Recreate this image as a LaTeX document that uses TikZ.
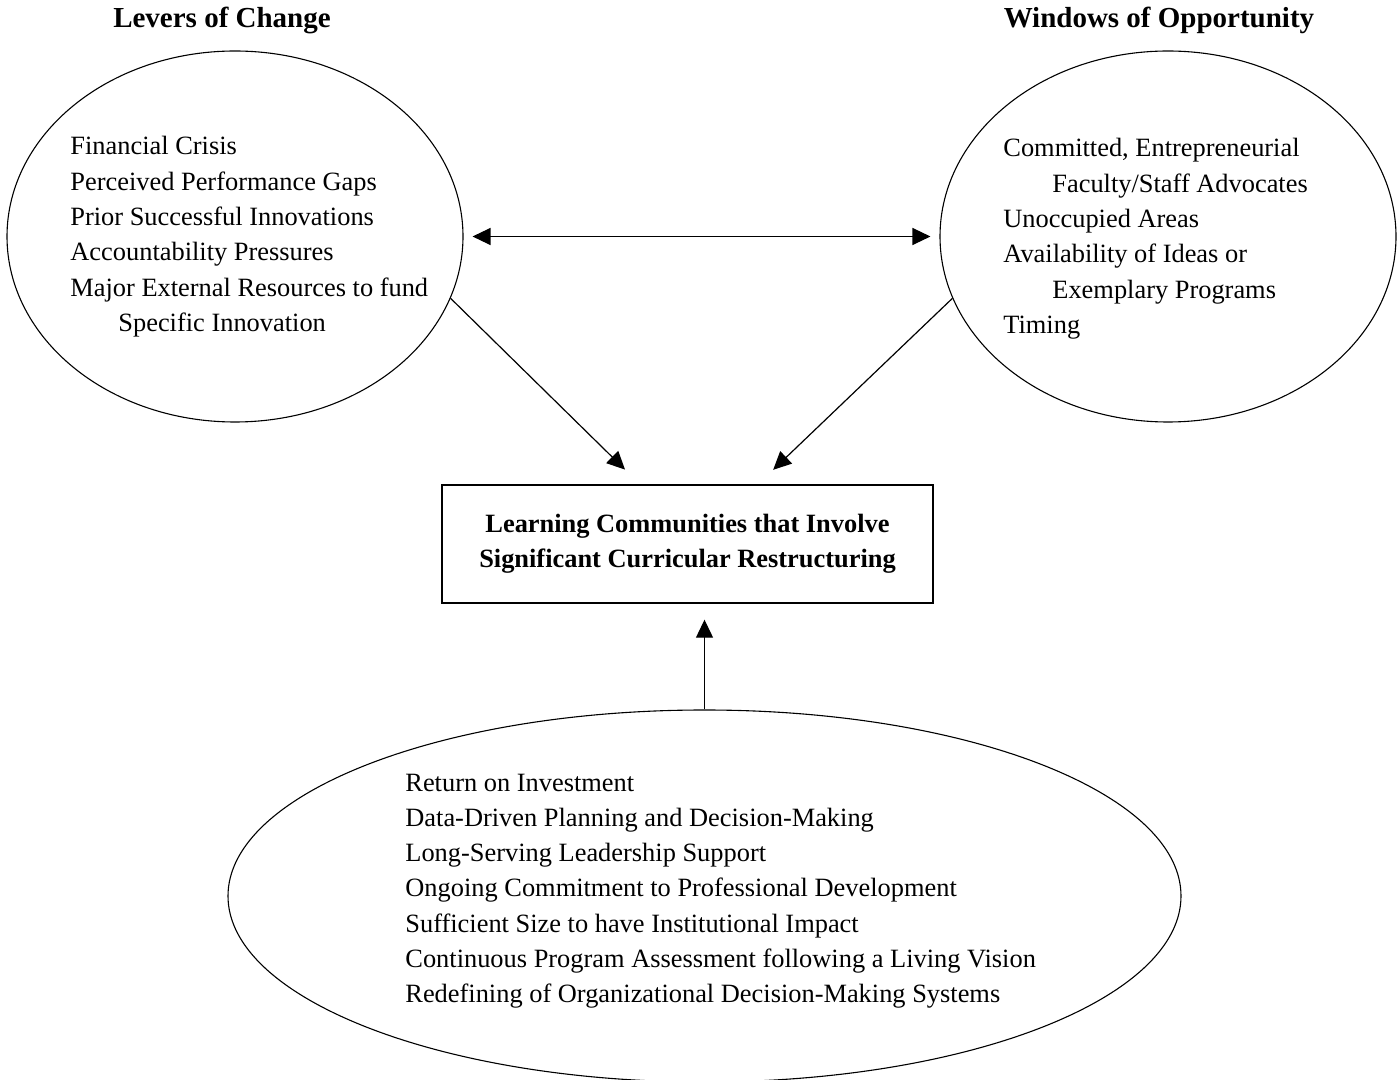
\documentclass[tikz,border=0pt]{standalone}
\usepackage{fontspec}
\setmainfont{Liberation Serif}
\usetikzlibrary{arrows.meta,shapes.geometric,calc}
\begin{document}
\begin{tikzpicture}[x=0.5pt,y=-0.5pt,
  bodytext/.style={inner sep=0pt,anchor=base west,align=left,font=\fontsize{13.2}{17.65}\selectfont},
  titletext/.style={inner sep=0pt,anchor=base,font=\fontsize{14.5}{17}\selectfont\bfseries},
  oval/.style={draw,ellipse,line width=0.55pt,inner sep=0pt},
  conn/.style={line width=0.6pt,-{Triangle[length=9pt,width=8.5pt]}},
  boxnode/.style={draw,line width=0.7pt,inner sep=0pt,align=center,font=\fontsize{13.2}{17.65}\selectfont\bfseries}]
\useasboundingbox (0,0) rectangle (1398,1080);
% titles
\node[titletext] (tl) at (222,28) {Levers of Change};
\node[titletext] (tr) at (1159,28) {Windows of Opportunity};
% ellipses
\node[oval,minimum width=228pt,minimum height=185.5pt] (L) at (235,236.5) {};
\node[oval,minimum width=228pt,minimum height=185.5pt] (R) at (1168,236.5) {};
\node[oval,minimum width=476.5pt,minimum height=186pt] (Bo) at (704.5,896) {};
% box
\node[boxnode,minimum width=245.5pt,minimum height=59pt] (Box) at (687.5,544)
  {Learning Communities that Involve\\Significant Curricular Restructuring};
% texts (anchored at the baseline of their last line)
\node[bodytext] (lt) at (70,331.5) {Financial Crisis\\Perceived Performance Gaps\\Prior Successful Innovations\\Accountability Pressures\\Major External Resources to fund\\\hspace*{24pt}Specific Innovation};
\node[bodytext] (rt) at (1003,333.5) {Committed, Entrepreneurial\\\hspace*{24.5pt}Faculty/Staff Advocates\\Unoccupied Areas\\Availability of Ideas or\\\hspace*{24.5pt}Exemplary Programs\\Timing};
\node[bodytext] (bt) at (405,1002.8) {Return on Investment\\Data-Driven Planning and Decision-Making\\Long-Serving Leadership Support\\Ongoing Commitment to Professional Development\\Sufficient Size to have Institutional Impact\\Continuous Program Assessment following a Living Vision\\Redefining of Organizational Decision-Making Systems};
% connectors
\draw[line width=0.6pt,{Triangle[length=9pt,width=8.5pt]}-{Triangle[length=9pt,width=8.5pt]},shorten <=4.5pt,shorten >=4.5pt] (L.east) -- (R.west);
\draw[conn,shorten >=10.5pt] (L.-16) -- ([xshift=-23.75pt]Box.north);
\draw[conn,shorten >=10.5pt] (R.-164) -- ([xshift=35.25pt]Box.north);
\draw[conn,shorten >=8pt] (Bo.north) -- (Bo.north |- Box.south);
\end{tikzpicture}
\end{document}
